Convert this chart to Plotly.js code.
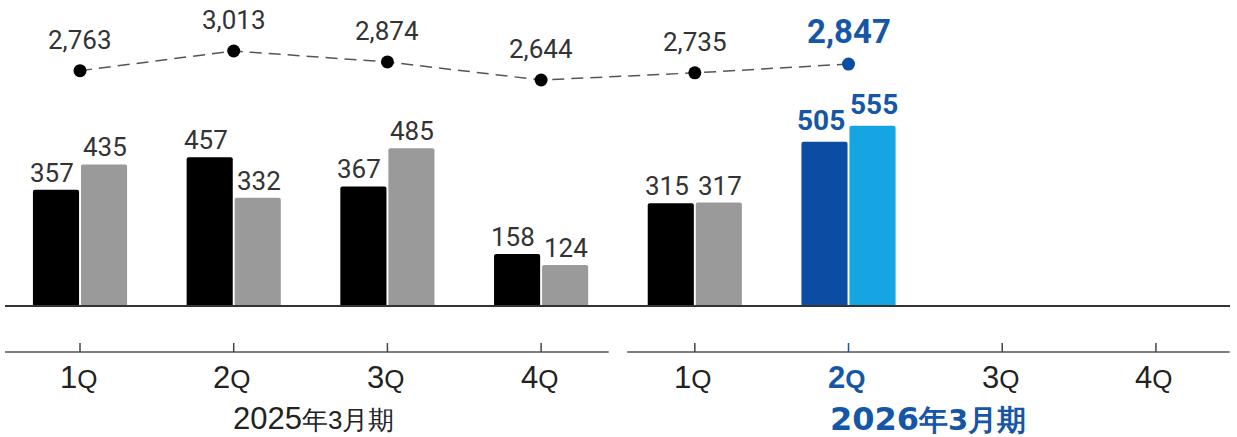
<!DOCTYPE html>
<html>
<head>
<meta charset="utf-8">
<script src="https://cdn.plot.ly/plotly-3.0.1.min.js"></script>
<style>html,body{margin:0;padding:0;background:#fff;}#chart{width:1237px;height:437px;}</style>
</head>
<body>
<div id="chart"></div>
<script>
// ---- data ----
const periods = ['2025年3月期','2025年3月期','2025年3月期','2025年3月期','2026年3月期','2026年3月期','2026年3月期','2026年3月期'];
const quarters = ['1Q','2Q','3Q','4Q','1Q','2Q','3Q','4Q'];
const seriesA = [357, 457, 367, 158, 315, 505];
const seriesB = [435, 332, 485, 124, 317, 555];
const lineValues = [2763, 3013, 2874, 2644, 2735, 2847];
const currentIndex = 5;

// ---- styles ----
const BLUE_TEXT = '#1656a6';
const DARK_BLUE = '#0a4da2';
const LIGHT_BLUE = '#14a5e2';
const GRAY_TEXT = '#333333';
const NUM_FONT = 'Roboto, sans-serif';
const AX_FONT = 'Liberation Sans, Arial, sans-serif';

const cats = periods.map((p, i) => p + ' ' + quarters[i]);
const xA = cats.slice(0, seriesA.length);
const xB = cats.slice(0, seriesB.length);
const xL = cats.slice(0, lineValues.length);
const fmt = v => v.toLocaleString('en-US');

const colA = seriesA.map((v, i) => i === currentIndex ? DARK_BLUE : '#000000');
const colB = seriesB.map((v, i) => i === currentIndex ? LIGHT_BLUE : '#9a9a9a');

const traces = [
  {type: 'bar', x: xA, y: seriesA, marker: {color: colA}, hoverinfo: 'none'},
  {type: 'bar', x: xB, y: seriesB, marker: {color: colB}, hoverinfo: 'none'},
  {type: 'scatter', mode: 'lines', x: xL, y: lineValues, yaxis: 'y2',
   line: {color: '#555555', width: 1.5, dash: '12px,7px'}, hoverinfo: 'none', cliponaxis: false},
  {type: 'scatter', mode: 'markers', x: xL, y: lineValues, yaxis: 'y2',
   marker: {size: 13, color: lineValues.map((v, i) => i === currentIndex ? DARK_BLUE : '#000000')},
   hoverinfo: 'none', cliponaxis: false}
];

const annotations = [];
// bar value labels
[[seriesA, xA, -28], [seriesB, xB, 25]].forEach(([vals, xs, dx]) => {
  vals.forEach((v, i) => {
    const hi = i === currentIndex;
    annotations.push({x: xs[i], y: v, xref: 'x', yref: 'y', xshift: dx, yshift: hi ? 3 : 0,
      showarrow: false, xanchor: 'center', yanchor: 'bottom',
      text: hi ? '<b>' + fmt(v) + '</b>' : fmt(v),
      font: {family: NUM_FONT, size: hi ? 28 : 26, color: hi ? BLUE_TEXT : GRAY_TEXT}});
  });
});
// line value labels
lineValues.forEach((v, i) => {
  const hi = i === currentIndex;
  annotations.push({x: xL[i], y: v, xref: 'x', yref: 'y2', yshift: hi ? 33 : 31, showarrow: false,
    xanchor: 'center', yanchor: 'middle',
    text: hi ? '<b>' + fmt(v) + '</b>' : fmt(v),
    font: {family: NUM_FONT, size: hi ? 33 : 26, color: hi ? BLUE_TEXT : GRAY_TEXT}});
});
const AX_Y = -47 / 305;
quarters.forEach((q, i) => {
  const hi = i === currentIndex;
  const n = q.slice(0, 1), s = q.slice(1);
  const t = n + '<span style="font-size:26px">' + s + '</span>';
  annotations.push({x: cats[i], y: AX_Y, xref: 'x', yref: 'paper', xshift: -2, yshift: -25, showarrow: false,
    xanchor: 'center', yanchor: 'middle',
    text: hi ? '<b>' + t + '</b>' : t,
    font: {family: AX_FONT, size: 31, color: hi ? BLUE_TEXT : '#222222'}});
});
const uniqPeriods = [...new Set(periods)];
uniqPeriods.forEach((p, k) => {
  const idx = periods.map((q, i) => q === p ? i : -1).filter(i => i >= 0);
  const mid = idx.reduce((a, b) => a + b, 0) / idx.length;
  const hi = k === uniqPeriods.length - 1;
  const yr = p.slice(0, 4), rest = p.slice(4);
  annotations.push({x: mid, y: AX_Y, xref: 'x', yref: 'paper', xshift: 3, yshift: hi ? -67 : -66, showarrow: false,
    xanchor: 'center', yanchor: 'middle',
    text: hi ? '<b>' + yr + '<span style="font-size:29px">' + rest + '</span></b>'
             : yr + '<span style="font-size:26px">' + rest + '</span>',
    font: {family: hi ? 'DejaVu Sans, sans-serif' : AX_FONT, size: hi ? 32 : 31, color: hi ? BLUE_TEXT : '#222222'}});
});

const shapes = [
  {type: 'line', xref: 'x', yref: 'paper', x0: -0.49, x1: 3.44, y0: AX_Y, y1: AX_Y, line: {color: '#555555', width: 1.5}},
  {type: 'line', xref: 'x', yref: 'paper', x0: 3.56, x1: 7.48, y0: AX_Y, y1: AX_Y, line: {color: '#555555', width: 1.5}}
];
cats.forEach((c, i) => {
  shapes.push({type: 'line', xref: 'x', yref: 'paper', x0: c, x1: c, y0: AX_Y, y1: AX_Y + 9 / 305,
    line: {color: i === currentIndex ? BLUE_TEXT : '#444444', width: 1.5}});
});

const layout = {
  width: 1237, height: 437,
  margin: {l: 5, r: 7, t: 0, b: 132},
  paper_bgcolor: '#ffffff', plot_bgcolor: '#ffffff',
  showlegend: false,
  barmode: 'group', bargap: 0.375, bargroupgap: 0.04, barcornerradius: 2,
  xaxis: {type: 'category', categoryorder: 'array', categoryarray: cats, range: [-0.488, 7.482],
    showticklabels: false, ticks: '', showgrid: false, zeroline: false,
    showline: true, linecolor: '#333333', linewidth: 1.5, fixedrange: true},
  yaxis: {range: [0, 944], visible: false, showgrid: false, zeroline: false, fixedrange: true},
  yaxis2: {range: [-219, 3662], overlaying: 'y', visible: false, showgrid: false, zeroline: false, fixedrange: true},
  annotations: annotations,
  shapes: shapes
};

Plotly.newPlot('chart', traces, layout, {displayModeBar: false, staticPlot: true});
</script>
</body>
</html>
